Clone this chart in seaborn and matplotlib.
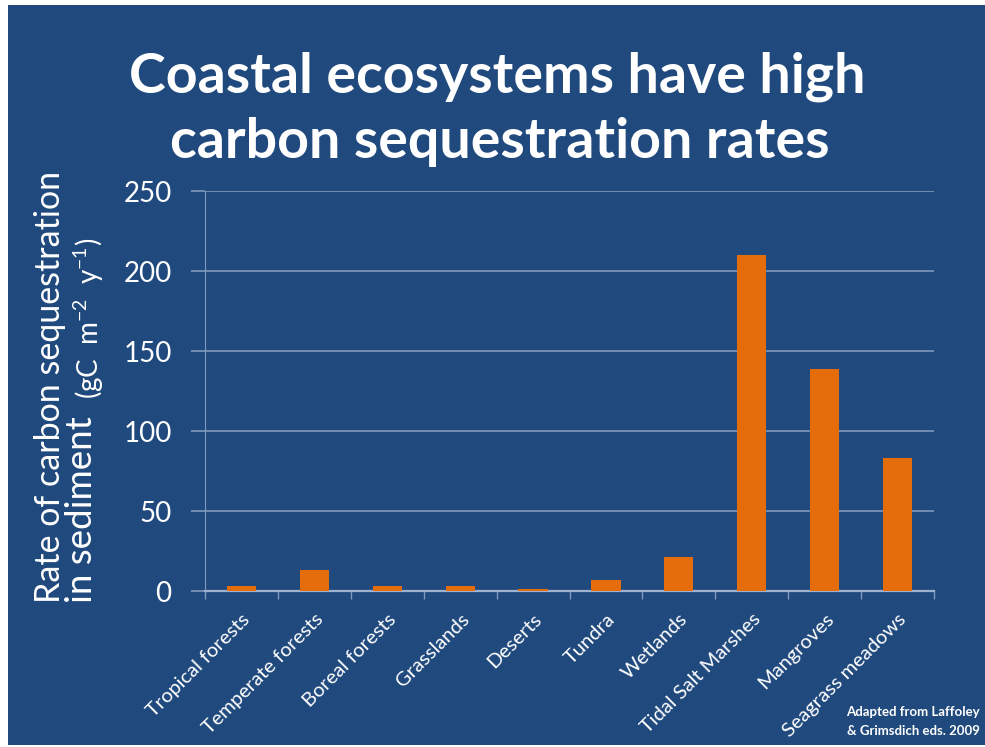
import matplotlib
matplotlib.use("Agg")
import matplotlib.pyplot as plt
import seaborn as sns
import pandas as pd
from matplotlib.patches import Rectangle

categories = ["Tropical forests", "Temperate forests", "Boreal forests", "Grasslands",
              "Deserts", "Tundra", "Wetlands", "Tidal Salt Marshes", "Mangroves",
              "Seagrass meadows"]
rates = [3, 13, 3, 3, 1, 7, 21, 210, 139, 83]
yticks = [0, 50, 100, 150, 200, 250]

BG = "#20497d"
ORANGE = "#e46c0a"
GRID = "#8099bc"
FONT = "Lato"

sns.set_theme(style="white")
plt.rcParams["font.family"] = [FONT, "DejaVu Sans"]
plt.rcParams["mathtext.fontset"] = "custom"
plt.rcParams["mathtext.rm"] = FONT
plt.rcParams["mathtext.it"] = FONT + ":italic"

df = pd.DataFrame({"category": categories, "rate": rates})

W, H = 985, 747
fig = plt.figure(figsize=(W / 100, H / 100), dpi=100, facecolor="white")
fig.patches.append(Rectangle((8 / W, 2 / H), 1 - 8 / W, 1 - 7 / H,
                             transform=fig.transFigure, facecolor=BG,
                             edgecolor="none", zorder=-10))

ax = fig.add_axes([205 / W, 1 - 591 / H, (934 - 205) / W, (591 - 191) / H])
ax.set_zorder(1)
ax.set_facecolor("none")
sns.barplot(data=df, x="category", y="rate", color=ORANGE, width=0.4,
            saturation=1, linewidth=0, edgecolor=ORANGE, ax=ax, zorder=3)
ax.set_xlim(-0.5, len(categories) - 0.5)
ax.set_ylim(0, 250)
ax.set_yticks(yticks)
ax.set_yticklabels([str(t) for t in yticks], color="white", fontsize=20)
ax.yaxis.grid(True, color=GRID, linewidth=1.2, zorder=0)
ax.set_axisbelow(True)
ax.tick_params(axis="y", left=True, length=10, width=1.2, color=GRID, pad=14)

ax.set_xticks(range(len(categories)))
ax.set_xticklabels(categories, rotation=45, ha="right", rotation_mode="anchor",
                   color="white", fontsize=14.5)
ax.tick_params(axis="x", which="major", length=0, pad=14)
ax.set_xticks([i - 0.5 for i in range(len(categories) + 1)], minor=True)
ax.tick_params(axis="x", which="minor", bottom=True, length=6, width=1, color=GRID)

for s in ["top", "right"]:
    ax.spines[s].set_visible(False)
ax.spines["left"].set_color(GRID)
ax.spines["left"].set_linewidth(0.8)
ax.spines["bottom"].set_color("#9fb3d0")
ax.spines["bottom"].set_linewidth(1.6)
ax.set_xlabel("")
ax.set_ylabel("")

fig.text(497 / W, 1 - 93 / H, "Coastal ecosystems have high", color="white",
         fontsize=40, fontweight="bold", ha="center", va="baseline")
fig.text(500 / W, 1 - 158 / H, "carbon sequestration rates", color="white",
         fontsize=40, fontweight="bold", ha="center", va="baseline")

fig.text(50 / W, 1 - 387 / H, "Rate of carbon sequestration", color="white",
         fontsize=24.5, rotation=90, ha="center", va="center")
fig.text(81 / W, 1 - 510 / H, "in sediment", color="white",
         fontsize=26.5, rotation=90, ha="center", va="center")
fig.text(89 / W, 1 - 318 / H, r"(gC  m$^{-2}$  y$^{-1}$)", color="white",
         fontsize=20, rotation=90, ha="center", va="center")

fig.text(980 / W, 1 - 712 / H, "Adapted from Laffoley", color="white",
         fontsize=9.5, fontweight="bold", ha="right", va="center")
fig.text(980 / W, 1 - 731 / H, "& Grimsdich eds. 2009", color="white",
         fontsize=9.5, fontweight="bold", ha="right", va="center")

fig.savefig("out.png", dpi=100, facecolor="white")
